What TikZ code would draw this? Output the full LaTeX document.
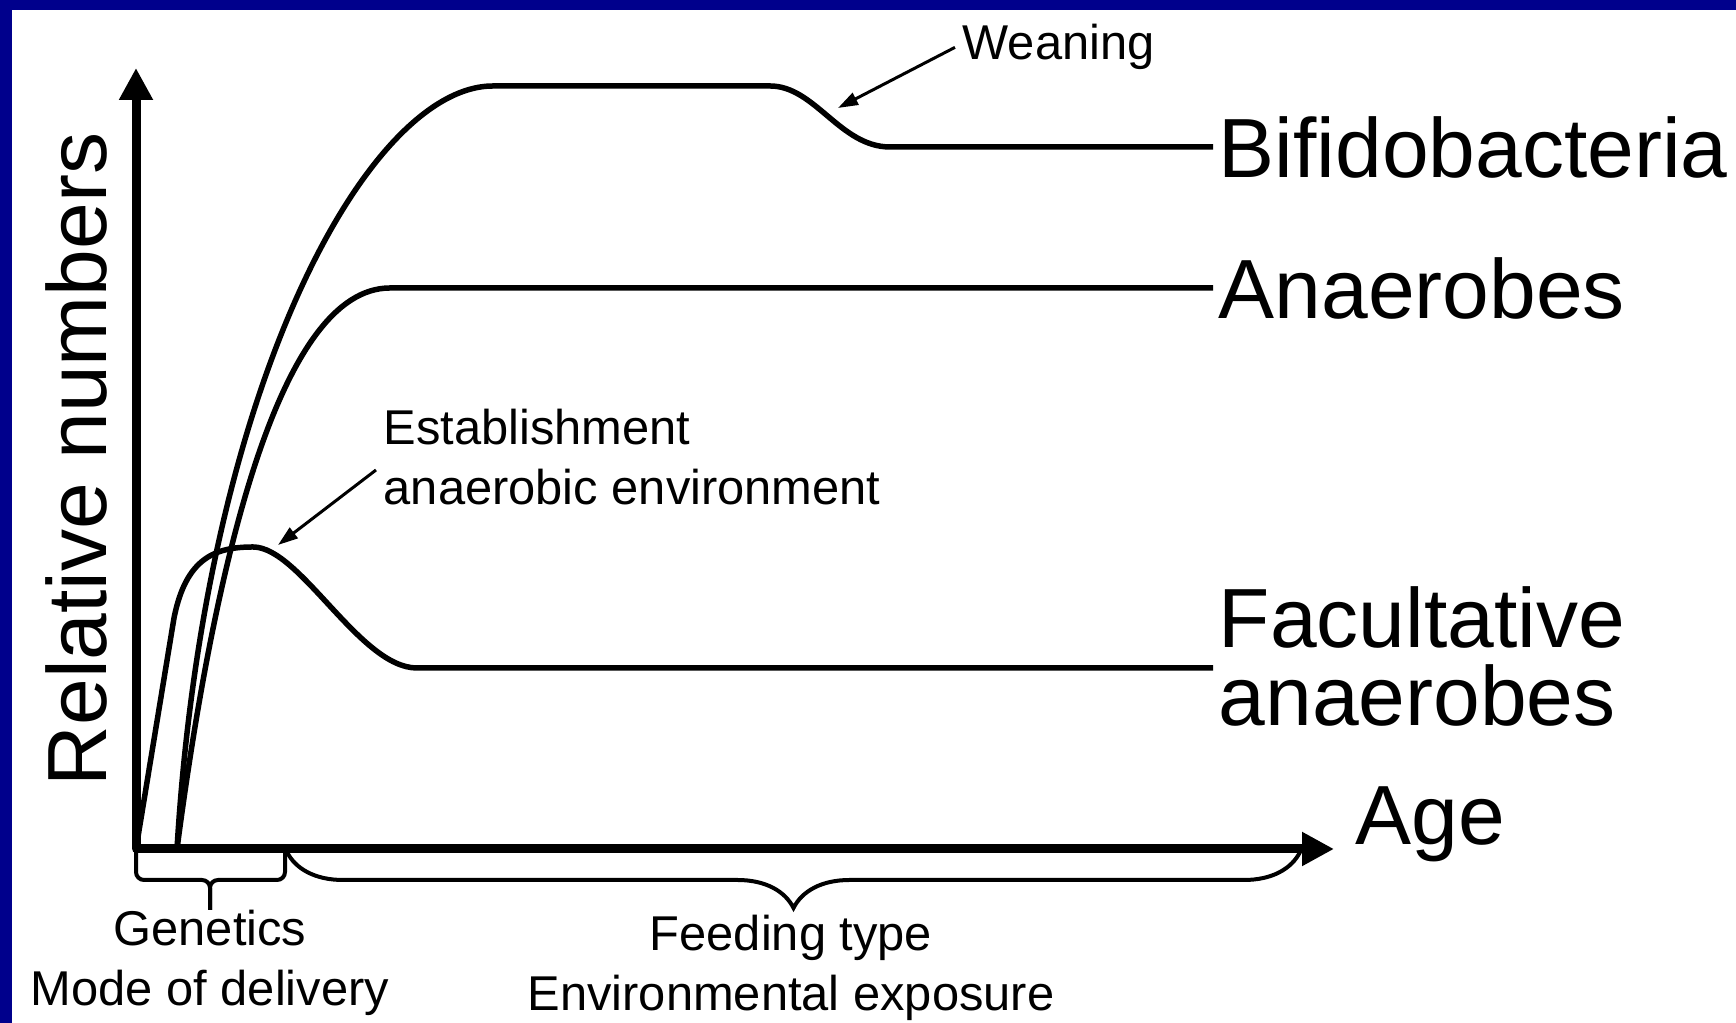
\documentclass[tikz,border=0pt]{standalone}
\usepackage{fontspec}
\setmainfont{Liberation Sans}
\usepackage{tikz}
\usetikzlibrary{arrows.meta, decorations.pathreplacing}
\definecolor{framenavy}{RGB}{0,0,140}

\begin{document}
\begin{tikzpicture}[
  big/.style={font=\fontsize{23.9}{22.2}\selectfont, inner sep=0pt},
  small/.style={font=\fontsize{13.9}{17.1}\selectfont, inner ysep=0pt,
    inner xsep=0.07cm, align=center},
  axis/.style={line width=0.09cm, line join=round,
    {Triangle[length=0.32cm, width=0.32cm]}-{Triangle[length=0.32cm, width=0.32cm]}},
  curve/.style={line width=0.055cm},
  pointer/.style={line width=0.03cm, -{Triangle[length=0.2cm, width=0.13cm]}},
  bracepen/.style={line width=0.04cm},
]
  \useasboundingbox (0,0) rectangle (17.36,10.23);
  % Frame
  \fill[framenavy] (0,0) rectangle (17.36,10.23);
  \fill[white] (0.12,0) rectangle (17.36,10.13);

  % Axes
  \coordinate (O) at (1.36,1.74);
  \coordinate (start) at (1.77,1.74);
  \draw[axis] (1.36,9.55) -- (O) -- (13.34,1.74);
  \node[big, rotate=90] (ylab) at (0.765,5.635) {Relative numbers};
  \node[big, anchor=base west] (age) at (13.55,1.78) {Age};

  % Curves
  \draw[curve] (start) .. controls (2.05,6.43) and (3.70,9.37) .. (4.93,9.37)
    -- (7.70,9.37) .. controls (8.15,9.37) and (8.40,8.76) .. (8.90,8.76)
    -- (12.13,8.76) node[big, anchor=west, xshift=0.03cm] (bifido) {Bifidobacteria};
  \draw[curve] (start) .. controls (2.15,4.63) and (2.80,7.35) .. (3.90,7.35)
    -- (12.13,7.35) node[big, anchor=west, xshift=0.03cm] (anaer) {Anaerobes};
  \draw[curve] (O) -- (1.74,4.05) .. controls (1.86,4.65) and (2.15,4.76) .. (2.53,4.76)
    .. controls (3.00,4.76) and (3.60,3.55) .. (4.17,3.55)
    -- (12.13,3.55) node[big, anchor=west, align=left, xshift=0.03cm, yshift=0.12cm]
    (facult) {Facultative\\anaerobes};

  % Pointers
  \node[small, anchor=base west] (weaning) at (9.55,9.63) {Weaning};
  \coordinate (weantip) at (8.38,9.15);
  \draw[pointer] (weaning.west) -- (weantip);
  \node[small, align=left, anchor=west] (estab) at (3.76,5.66)
    {Establishment\\anaerobic environment};
  \coordinate (estabtip) at (2.78,4.78);
  \draw[pointer] ([yshift=-0.13cm]estab.west) -- (estabtip);

  % Braces + captions
  \draw[bracepen, rounded corners=0.08cm] (1.36,1.72) |- (2.10,1.43) -- (2.10,1.13);
  \draw[bracepen, rounded corners=0.08cm] (2.85,1.72) |- (2.10,1.43) -- (2.10,1.13);
  \draw[bracepen, decorate, decoration={brace, amplitude=0.56cm, mirror}]
    (2.87,1.71) -- (13.00,1.71);
  \node[small] (genetics) at (2.10,0.60) {Genetics\\Mode of delivery};
  \node[small] (feeding) at (7.91,0.55) {Feeding type\\Environmental exposure};
\end{tikzpicture}
\end{document}
